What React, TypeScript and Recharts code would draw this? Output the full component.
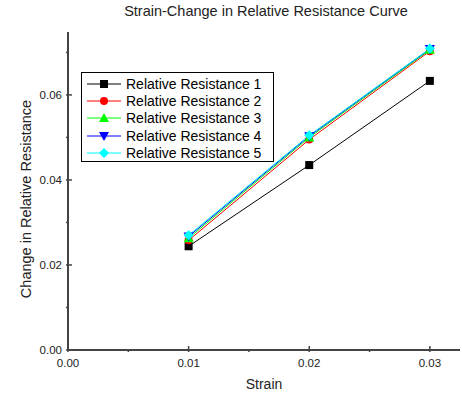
import { Legend, Line, LineChart, XAxis, YAxis } from "recharts";

const strain = [0.01, 0.02, 0.03];
const rr1 = [0.0244, 0.0435, 0.0633];
const rr2 = [0.0258, 0.0495, 0.0703];
const rr3 = [0.0263, 0.05, 0.0706];
const rr4 = [0.0267, 0.0503, 0.0708];
const rr5 = [0.027, 0.0505, 0.0709];

const xTicks = [0, 0.005, 0.01, 0.015, 0.02, 0.025, 0.03];
const yTicks = [0, 0.01, 0.02, 0.03, 0.04, 0.05, 0.06, 0.07];
const xLabelled = [0, 0.01, 0.02, 0.03];
const yLabelled = [0, 0.02, 0.04, 0.06];

const data = strain.map((s, i) => ({
  strain: s,
  r1: rr1[i],
  r2: rr2[i],
  r3: rr3[i],
  r4: rr4[i],
  r5: rr5[i],
}));

const font = "Arial, 'Liberation Sans', sans-serif";
const axisColor = "#444";

const isMajor = (v: number, list: number[]) => list.some((m) => Math.abs(m - v) < 1e-9);

function Marker({ kind, cx, cy, color }: any) {
  const r = 4;
  if (kind === "square")
    return <rect x={cx - r} y={cy - r} width={2 * r} height={2 * r} fill={color} />;
  if (kind === "circle") return <circle cx={cx} cy={cy} r={r} fill={color} />;
  if (kind === "up")
    return <polygon points={`${cx},${cy - r - 1} ${cx + r + 1},${cy + r} ${cx - r - 1},${cy + r}`} fill={color} />;
  if (kind === "down")
    return <polygon points={`${cx - r - 1},${cy - r} ${cx + r + 1},${cy - r} ${cx},${cy + r + 1}`} fill={color} />;
  return <polygon points={`${cx},${cy - r - 1} ${cx + r + 1},${cy} ${cx},${cy + r + 1} ${cx - r - 1},${cy}`} fill={color} />;
}

const series = [
  { key: "r1", name: "Relative Resistance 1", color: "#000000", kind: "square" },
  { key: "r2", name: "Relative Resistance 2", color: "#ff0000", kind: "circle" },
  { key: "r3", name: "Relative Resistance 3", color: "#00ff00", kind: "up" },
  { key: "r4", name: "Relative Resistance 4", color: "#0000ff", kind: "down" },
  { key: "r5", name: "Relative Resistance 5", color: "#00ffff", kind: "diamond" },
];

function BottomTick({ x, y, payload }: any) {
  const major = isMajor(payload.value, xLabelled);
  return (
    <g>
      <line x1={x} x2={x} y1={y} y2={y - (major ? 6 : 3)} stroke={axisColor} strokeWidth={1.5} />
      {major && (
        <text x={x} y={y + 15} textAnchor="middle" fontSize={11.5} fill="#222" fontFamily={font}>
          {payload.value.toFixed(2)}
        </text>
      )}
    </g>
  );
}

function TopTick({ x, y, payload }: any) {
  const major = isMajor(payload.value, xLabelled);
  return <line x1={x} x2={x} y1={y} y2={y + (major ? 6 : 3)} stroke={axisColor} strokeWidth={1} />;
}

function LeftTick({ x, y, payload }: any) {
  const major = isMajor(payload.value, yLabelled);
  return (
    <g>
      <line x1={x} x2={x + (major ? 6 : 3)} y1={y} y2={y} stroke={axisColor} strokeWidth={1.5} />
      {major && (
        <text x={x - 4} y={y + 4} textAnchor="end" fontSize={11.5} fill="#222" fontFamily={font}>
          {payload.value.toFixed(2)}
        </text>
      )}
    </g>
  );
}

function RightTick({ x, y, payload }: any) {
  const major = isMajor(payload.value, yLabelled);
  return <line x1={x} x2={x - (major ? 6 : 3)} y1={y} y2={y} stroke={axisColor} strokeWidth={1} />;
}

function LegendBox() {
  return (
    <div
      style={{
        border: "1px solid #000",
        background: "#fff",
        width: 193,
        height: 90,
        boxSizing: "border-box",
        paddingTop: 2,
        fontFamily: font,
        fontSize: 14,
        color: "#000",
        textAlign: "left",
      }}
    >
      {series.map((s) => (
        <div key={s.key} style={{ display: "flex", alignItems: "center", height: 17.4 }}>
          <svg width={44} height={12} style={{ flex: "none" }}>
            <line x1={5} x2={39} y1={6} y2={6} stroke={s.color} strokeWidth={1} />
            <Marker kind={s.kind} cx={22} cy={6} color={s.color} />
          </svg>
          <span style={{ whiteSpace: "nowrap" }}>{s.name}</span>
        </div>
      ))}
    </div>
  );
}

export default function App() {
  return (
    <div style={{ position: "fixed", left: 0, top: 0, width: 462, height: 397, background: "#fff" }}>
      <div
        style={{
          position: "absolute",
          left: 70,
          width: 392,
          top: 3,
          textAlign: "center",
          fontFamily: font,
          fontSize: 14.5,
          color: "#222",
        }}
      >
        Strain-Change in Relative Resistance Curve
      </div>
      <LineChart width={462} height={397} data={data} margin={{ top: 32, right: 2, bottom: 0, left: 0 }}>
        <XAxis
          dataKey="strain"
          type="number"
          domain={[0, 0.0325]}
          ticks={xTicks}
          xAxisId="b"
          height={47}
          tickSize={0}
          tickLine={false}
          axisLine={{ stroke: axisColor, strokeWidth: 2 }}
          tick={<BottomTick />}
          interval={0}
          label={{ value: "Strain", position: "insideBottom", offset: 8, fontSize: 14, fill: "#222", fontFamily: font }}
        />
        <XAxis
          dataKey="strain"
          type="number"
          domain={[0, 0.0325]}
          ticks={xTicks}
          xAxisId="t"
          orientation="top"
          height={0}
          tickSize={0}
          tickLine={false}
          axisLine={{ stroke: axisColor, strokeWidth: 1.5 }}
          tick={<TopTick />}
          interval={0}
        />
        <YAxis
          type="number"
          domain={[0, 0.0748]}
          ticks={yTicks}
          yAxisId="l"
          width={68}
          tickSize={0}
          tickLine={false}
          axisLine={{ stroke: axisColor, strokeWidth: 2 }}
          tick={<LeftTick />}
          interval={0}
          label={{
            value: "Change in Relative Resistance",
            angle: -90,
            position: "center",
            dx: -8,
            dy: 8,
            fontSize: 14.5,
            fill: "#222",
            fontFamily: font,
          }}
        />
        <YAxis
          type="number"
          domain={[0, 0.0748]}
          ticks={yTicks}
          yAxisId="r"
          orientation="right"
          width={0}
          tickSize={0}
          tickLine={false}
          axisLine={{ stroke: axisColor, strokeWidth: 1.5 }}
          tick={<RightTick />}
          interval={0}
        />
        <Legend
          verticalAlign="middle"
          align="center"
          layout="horizontal"
          wrapperStyle={{ left: 81, top: 72, width: 193 }}
          content={() => <LegendBox />}
        />
        {series.map((s) => (
          <Line
            key={s.key}
            dataKey={s.key}
            name={s.name}
            xAxisId="b"
            yAxisId="l"
            stroke={s.color}
            strokeWidth={1}
            isAnimationActive={false}
            dot={(p: any) => <Marker key={`${s.key}-${p.index}`} kind={s.kind} cx={p.cx} cy={p.cy} color={s.color} />}
            activeDot={false}
          />
        ))}
      </LineChart>
    </div>
  );
}
